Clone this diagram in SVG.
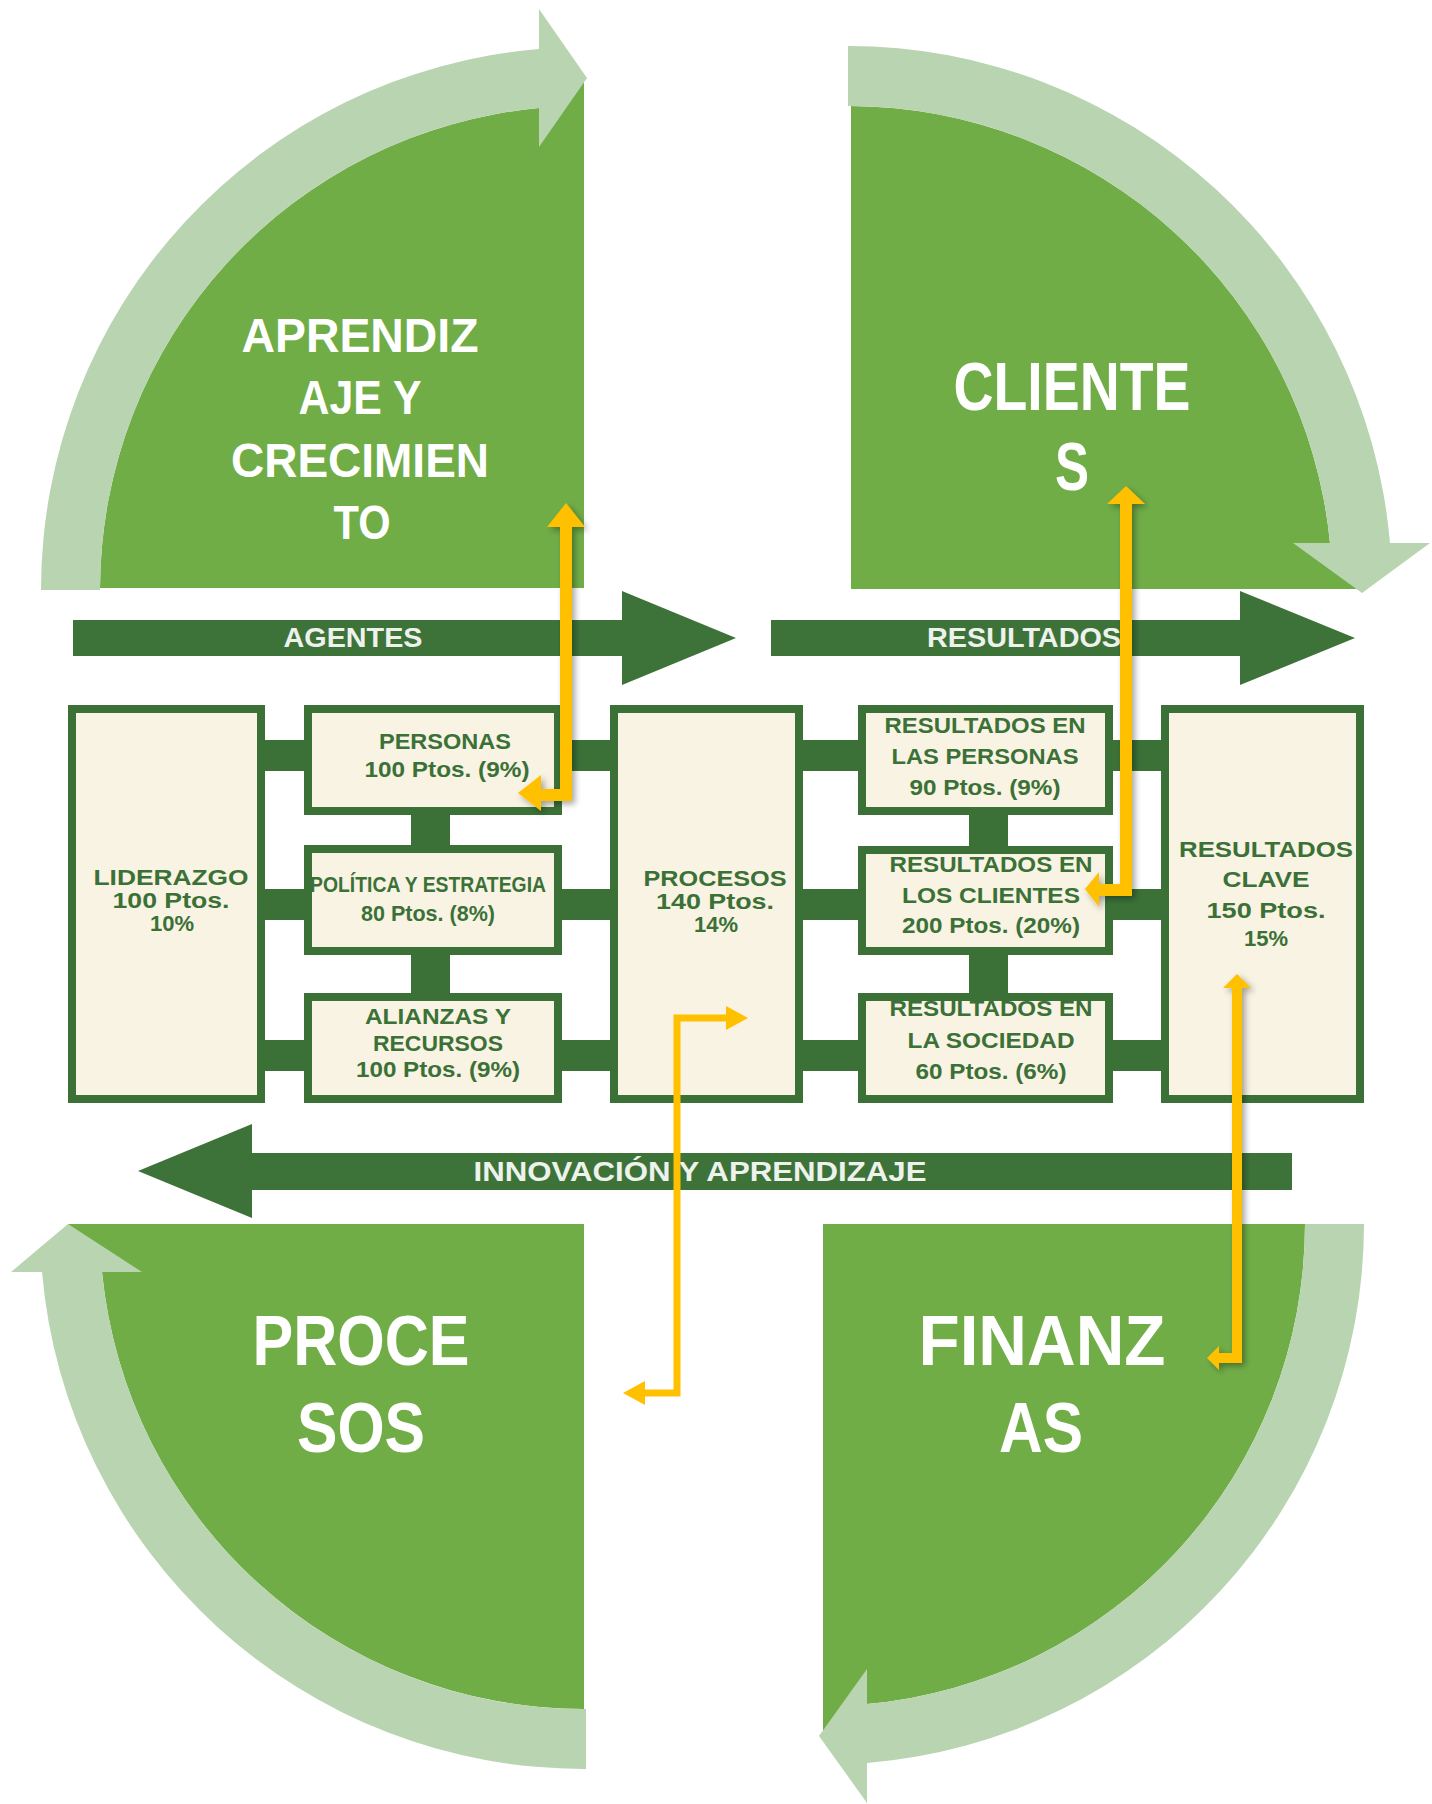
<svg xmlns="http://www.w3.org/2000/svg" width="1432" height="1804" viewBox="0 0 1432 1804">
<defs>
<style>
.dq{fill:#70AD47}
.band{fill:#B9D4B0}
.garrow{fill:#3D7238}
.bar{fill:#3B7137}
.box{fill:#F8F3E3;stroke:#3B7137;stroke-width:8}
.big{font-family:"Liberation Sans",Arial,sans-serif;font-weight:bold;fill:#FFFFFF;text-anchor:middle}
.atx{font-family:"Liberation Sans",Arial,sans-serif;font-weight:bold;fill:#EEF2EC;text-anchor:middle;font-size:27px}
.bt{font-family:"Liberation Sans",Arial,sans-serif;font-weight:bold;fill:#3B7137;text-anchor:middle;font-size:22px}
.yl{fill:none;stroke:#FFC000;stroke-linejoin:miter}
.yh{fill:#FFC000}
</style>
<filter id="sh" x="-60%" y="-10%" width="220%" height="120%">
<feDropShadow dx="3" dy="3" stdDeviation="3" flood-color="#000000" flood-opacity="0.35"/>
</filter>
</defs>
<rect width="1432" height="1804" fill="#FFFFFF"/>

<g id="q-aprendizaje">
<path class="dq" d="M100,588 A484,484 0 0 1 539,108 L587,78 L584,78 L584,588 Z"/>
<path class="band" d="M41,590 A543,543 0 0 1 539,49 L539,9 L587,78 L539,147 L539,108 A484,484 0 0 0 100,590 Z"/>
<text class="big" font-size="48"><tspan x="360" y="352" textLength="237" lengthAdjust="spacingAndGlyphs">APRENDIZ</tspan></text>
<text class="big" font-size="48"><tspan x="360" y="414" textLength="123" lengthAdjust="spacingAndGlyphs">AJE Y</tspan></text>
<text class="big" font-size="48"><tspan x="360" y="477" textLength="258" lengthAdjust="spacingAndGlyphs">CRECIMIEN</tspan></text>
<text class="big" font-size="48"><tspan x="362" y="539" textLength="57" lengthAdjust="spacingAndGlyphs">TO</tspan></text>
</g>

<g id="q-clientes">
<path class="dq" d="M851,589 L851,106 A484,484 0 0 1 1330,543 L1362,589 Z"/>
<path class="band" d="M848,46 A544,544 0 0 1 1390,543 L1430,543 L1362,593 L1293,543 L1330,543 A484,484 0 0 0 848,106 Z"/>
<text class="big" font-size="68"><tspan x="1072" y="410" textLength="237" lengthAdjust="spacingAndGlyphs">CLIENTE</tspan></text>
<text class="big" font-size="68"><tspan x="1072" y="490" textLength="34" lengthAdjust="spacingAndGlyphs">S</tspan></text>
</g>

<g id="q-procesos">
<path class="dq" d="M584,1224 L68,1224 L102,1272 A484,484 0 0 0 584,1709 Z"/>
<path class="band" d="M586,1769 A544,544 0 0 1 42,1272 L11,1272 L68,1224 L142,1272 L102,1272 A484,484 0 0 0 586,1709 Z"/>
<text class="big" font-size="70"><tspan x="361" y="1365" textLength="217" lengthAdjust="spacingAndGlyphs">PROCE</tspan></text>
<text class="big" font-size="70"><tspan x="361" y="1452" textLength="128" lengthAdjust="spacingAndGlyphs">SOS</tspan></text>
</g>

<g id="q-finanzas">
<path class="dq" d="M823,1224 L1305,1224 A482,482 0 0 1 867,1704 L819,1736 L823,1736 Z"/>
<path class="band" d="M1364,1224 A541,541 0 0 1 867,1763 L867,1803 L819,1736 L867,1669 L867,1704 A482,482 0 0 0 1305,1224 Z"/>
<text class="big" font-size="70"><tspan x="1042" y="1365" textLength="247" lengthAdjust="spacingAndGlyphs">FINANZ</tspan></text>
<text class="big" font-size="70"><tspan x="1041" y="1452" textLength="84" lengthAdjust="spacingAndGlyphs">AS</tspan></text>
</g>

<g id="arrow-agentes">
<path class="garrow" d="M73,620 L622,620 L622,591 L736,638 L622,685 L622,656 L73,656 Z"/>
<text class="atx" x="353" y="647" textLength="139" lengthAdjust="spacingAndGlyphs">AGENTES</text>
</g>
<g id="arrow-resultados">
<path class="garrow" d="M771,620 L1240,620 L1240,591 L1355,638 L1240,685 L1240,656 L771,656 Z"/>
<text class="atx" x="1024" y="647" textLength="194" lengthAdjust="spacingAndGlyphs">RESULTADOS</text>
</g>
<g id="arrow-innovacion">
<path class="garrow" d="M1292,1153 L252,1153 L252,1124 L138,1171 L252,1218 L252,1190 L1292,1190 Z"/>
<text class="atx" x="700" y="1181" textLength="453" lengthAdjust="spacingAndGlyphs">INNOVACIÓN Y APRENDIZAJE</text>
</g>

<g id="bars">
<rect class="bar" x="262" y="740" width="902" height="31"/>
<rect class="bar" x="262" y="889" width="902" height="31"/>
<rect class="bar" x="262" y="1040" width="902" height="31"/>
<rect class="bar" x="411" y="810" width="39" height="188"/>
<rect class="bar" x="969" y="810" width="39" height="188"/>
</g>

<g id="n-liderazgo">
<rect class="box" x="72" y="709" width="189" height="390"/>
<text class="bt" font-size="26"><tspan x="171" y="885" textLength="155" lengthAdjust="spacingAndGlyphs">LIDERAZGO</tspan><tspan x="171" y="908" textLength="117" lengthAdjust="spacingAndGlyphs">100 Ptos.</tspan><tspan x="172" y="931">10%</tspan></text>
</g>
<g id="n-personas">
<rect class="box" x="308" y="709" width="250" height="102"/>
<text class="bt"><tspan x="445" y="749" textLength="132" lengthAdjust="spacingAndGlyphs">PERSONAS</tspan><tspan x="447" y="777" textLength="165" lengthAdjust="spacingAndGlyphs">100 Ptos. (9%)</tspan></text>
</g>
<g id="n-politica">
<rect class="box" x="308" y="849" width="250" height="102"/>
<text class="bt" font-size="21"><tspan x="428" y="892" textLength="236" lengthAdjust="spacingAndGlyphs">POLÍTICA Y ESTRATEGIA</tspan><tspan x="428" y="921" textLength="134" lengthAdjust="spacingAndGlyphs">80 Ptos. (8%)</tspan></text>
</g>
<g id="n-alianzas">
<rect class="box" x="308" y="997" width="250" height="102"/>
<text class="bt"><tspan x="438" y="1024" textLength="146" lengthAdjust="spacingAndGlyphs">ALIANZAS Y</tspan><tspan x="438" y="1051" textLength="130" lengthAdjust="spacingAndGlyphs">RECURSOS</tspan><tspan x="438" y="1077" textLength="164" lengthAdjust="spacingAndGlyphs">100 Ptos. (9%)</tspan></text>
</g>
<g id="n-procesos">
<rect class="box" x="614" y="709" width="185" height="390"/>
<text class="bt" font-size="25"><tspan x="715" y="886" textLength="143" lengthAdjust="spacingAndGlyphs">PROCESOS</tspan><tspan x="715" y="909" textLength="118" lengthAdjust="spacingAndGlyphs">140 Ptos.</tspan><tspan x="716" y="932">14%</tspan></text>
</g>
<g id="n-res-personas">
<rect class="box" x="862" y="709" width="247" height="102"/>
<text class="bt"><tspan x="985" y="733" textLength="201" lengthAdjust="spacingAndGlyphs">RESULTADOS EN</tspan><tspan x="985" y="764" textLength="187" lengthAdjust="spacingAndGlyphs">LAS PERSONAS</tspan><tspan x="985" y="795" textLength="151" lengthAdjust="spacingAndGlyphs">90 Ptos. (9%)</tspan></text>
</g>
<g id="n-res-clientes">
<rect class="box" x="862" y="850" width="247" height="101"/>
<text class="bt"><tspan x="991" y="872" textLength="203" lengthAdjust="spacingAndGlyphs">RESULTADOS EN</tspan><tspan x="991" y="903" textLength="178" lengthAdjust="spacingAndGlyphs">LOS CLIENTES</tspan><tspan x="991" y="933" textLength="178" lengthAdjust="spacingAndGlyphs">200 Ptos. (20%)</tspan></text>
</g>
<g id="n-res-sociedad">
<rect class="box" x="862" y="997" width="247" height="102"/>
<text class="bt"><tspan x="991" y="1016" textLength="203" lengthAdjust="spacingAndGlyphs">RESULTADOS EN</tspan><tspan x="991" y="1048" textLength="167" lengthAdjust="spacingAndGlyphs">LA SOCIEDAD</tspan><tspan x="991" y="1079" textLength="151" lengthAdjust="spacingAndGlyphs">60 Ptos. (6%)</tspan></text>
</g>
<g id="n-res-clave">
<rect class="box" x="1165" y="709" width="195" height="390"/>
<text class="bt" font-size="23"><tspan x="1266" y="857" textLength="174" lengthAdjust="spacingAndGlyphs">RESULTADOS</tspan><tspan x="1266" y="887" textLength="87" lengthAdjust="spacingAndGlyphs">CLAVE</tspan><tspan x="1266" y="918" textLength="119" lengthAdjust="spacingAndGlyphs">150 Ptos.</tspan><tspan x="1266" y="946">15%</tspan></text>
</g>

<g id="connectors">
<g filter="url(#sh)">
<path class="yl" stroke-width="12" d="M566,524 L566,795 L538,795"/>
<polygon class="yh" points="566,503 585,527 547,527"/>
<polygon class="yh" points="518,793 541,775 541,811"/>
</g>
<g filter="url(#sh)">
<path class="yl" stroke-width="12" d="M1126,500 L1126,890 L1096,890"/>
<polygon class="yh" points="1126,486 1145,504 1107,504"/>
<polygon class="yh" points="1085,889 1099,872 1099,907"/>
</g>
<g>
<path class="yl" stroke-width="7" d="M727,1018 L677,1018 L677,1393 L644,1393"/>
<polygon class="yh" points="748,1018 726,1006 726,1030"/>
<polygon class="yh" points="623,1393 645,1381 645,1405"/>
</g>
<g filter="url(#sh)">
<path class="yl" stroke-width="10" d="M1237,985 L1237,1358 L1216,1358"/>
<polygon class="yh" points="1237,974 1251,988 1223,988"/>
<polygon class="yh" points="1207,1358 1219,1346 1219,1370"/>
</g>
</g>
</svg>
